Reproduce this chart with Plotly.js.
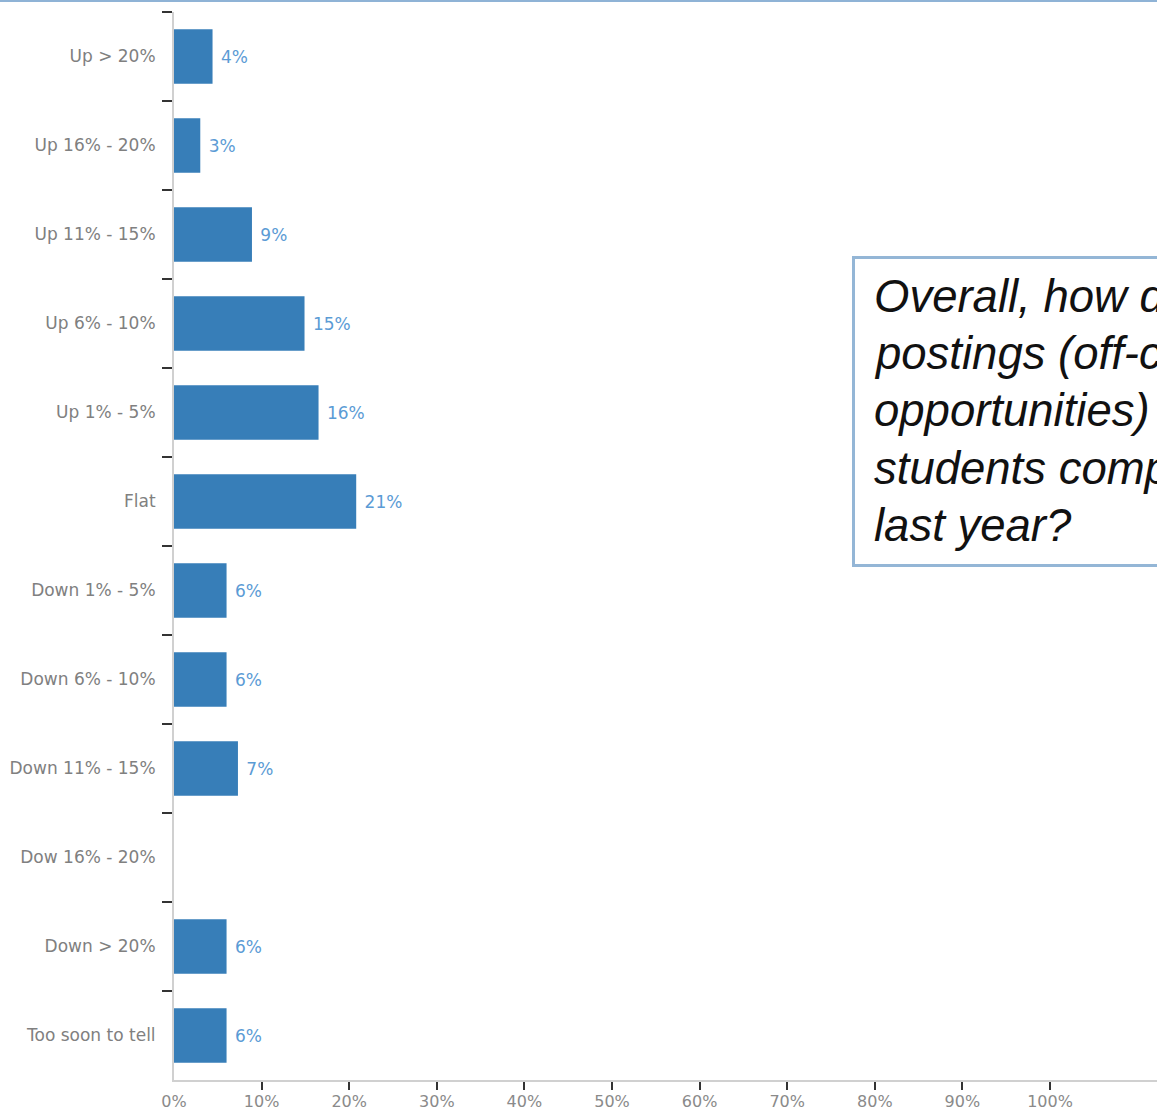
<!DOCTYPE html>
<html>
<head>
<meta charset="utf-8">
<script src="https://cdn.plot.ly/plotly-3.0.1.min.js"></script>
<style>html,body{margin:0;padding:0;background:#fff;}#chart{width:1157px;height:1110px;}</style>
</head>
<body>
<div id="chart"></div>
<script>
const categories = ["Up > 20%", "Up 16% - 20%", "Up 11% - 15%", "Up 6% - 10%", "Up 1% - 5%", "Flat",
  "Down 1% - 5%", "Down 6% - 10%", "Down 11% - 15%", "Dow 16% - 20%", "Down > 20%", "Too soon to tell"];
const values = [4.4, 3.0, 8.9, 14.9, 16.5, 20.8, 6.0, 6.0, 7.3, null, 6.0, 6.0];
const valueLabels = ["4%", "3%", "9%", "15%", "16%", "21%", "6%", "6%", "7%", "", "6%", "6%"];
const xTickVals = [0, 10, 20, 30, 40, 50, 60, 70, 80, 90, 100];
const xTickText = ["0%", "10%", "20%", "30%", "40%", "50%", "60%", "70%", "80%", "90%", "100%"];
const questionLines = ["Overall, how do job", "postings (off-campus", "opportunities) for your", "students compare to", "last year?"];

const W = 1157, H = 1110, L = 174, R = 0, T = 12, B = 30;
const pw = W - L - R, ph = H - T - B;
const px = x => (x - L) / pw;
const py = y => (H - B - y) / ph;

const trace = {
  type: 'bar',
  orientation: 'h',
  y: categories,
  x: values,
  text: valueLabels.map(s => s ? '\u00a0' + s : ''),
  textposition: 'outside',
  textfont: {family: 'DejaVu Sans', size: 17, color: '#5b9bd5'},
  marker: {color: '#377eb8', line: {width: 0}},
  cliponaxis: false,
  hoverinfo: 'none'
};

const lineAnnotations = questionLines.map((t, i) => ({
  xref: 'paper', yref: 'paper', x: px(872), y: py(296.6 + i * 57.2),
  xanchor: 'left', yanchor: 'middle', align: 'left', showarrow: false, text: t,
  font: {family: 'Liberation Sans', size: 45.5, color: '#111111', style: 'italic'}
}));

const layout = {
  width: W, height: H,
  margin: {l: L, r: R, t: T, b: B, pad: 0},
  paper_bgcolor: '#ffffff',
  plot_bgcolor: '#ffffff',
  showlegend: false,
  bargap: 0.39,
  font: {family: 'DejaVu Sans', color: '#808080'},
  xaxis: {
    range: [0, pw / 8.76],
    tickmode: 'array',
    tickvals: xTickVals,
    ticktext: xTickText,
    ticks: 'outside',
    ticklen: 6,
    tickcolor: 'rgba(0,0,0,0)',
    minor: {tickmode: 'array', tickvals: xTickVals.slice(1), ticks: 'outside', ticklen: 8, tickwidth: 2, tickcolor: '#333333', showgrid: false},
    showgrid: false,
    zeroline: false,
    showline: true,
    linecolor: '#d0d0d0',
    linewidth: 2,
    tickfont: {family: 'DejaVu Sans', size: 16, color: '#8a8a8a'},
    fixedrange: true
  },
  yaxis: {
    type: 'category',
    autorange: 'reversed',
    ticks: 'outside',
    tickson: 'boundaries',
    ticklen: 10,
    tickwidth: 2,
    tickcolor: '#333333',
    ticklabelstandoff: 13,
    showgrid: false,
    zeroline: false,
    showline: true,
    linecolor: '#d0d0d0',
    linewidth: 2,
    tickfont: {family: 'DejaVu Sans', size: 17, color: '#808080'},
    fixedrange: true
  },
  shapes: [
    {type: 'line', xref: 'paper', yref: 'paper', x0: px(0), x1: px(W), y0: py(1), y1: py(1),
     line: {color: '#8fb3d6', width: 2}},
    {type: 'rect', xref: 'paper', yref: 'paper', x0: px(853.5), x1: px(W + 40), y0: py(565.5), y1: py(257.5),
     line: {color: '#94b6d6', width: 3}, fillcolor: '#ffffff', layer: 'above'}
  ],
  annotations: lineAnnotations
};

Plotly.newPlot('chart', [trace], layout, {displayModeBar: false, staticPlot: true});
</script>
</body>
</html>
